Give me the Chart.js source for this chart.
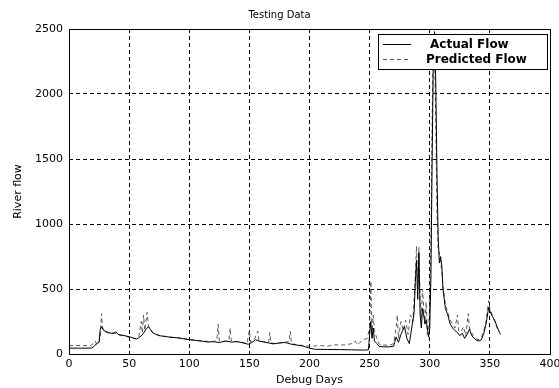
<!DOCTYPE html>
<html>
<head>
<meta charset="utf-8">
<script src="https://cdn.jsdelivr.net/npm/chart.js@4/dist/chart.umd.min.js"></script>
<style>
  body { margin: 0; background: #fff; }
</style>
</head>
<body>
<canvas id="flowChart" width="559" height="388"></canvas>
<script>
// values (day, river flow)
let actualDays = [0, 5, 10, 15, 19, 21, 23, 25, 26, 27, 29, 31, 33, 35, 37, 39, 41, 44, 47, 50, 53, 56, 58, 60, 62, 64, 66, 68, 70, 73, 76, 80, 85, 90, 95, 100, 105, 110, 115, 120, 125, 130, 135, 140, 145, 149, 152, 155, 158, 162, 166, 170, 175, 180, 185, 190, 195, 200, 205, 215, 225, 235, 245, 249, 250, 251, 252, 253, 254, 256, 258, 262, 266, 270, 272, 274, 276, 279, 281, 283, 285, 287, 288, 289, 290, 291, 292, 293, 294, 295, 296, 297, 299, 300, 301, 302, 303, 304, 305, 306, 307, 308, 309, 310, 311, 313, 315, 317, 319, 321, 323, 325, 327, 329, 331, 333, 335, 337, 339, 341, 343, 345, 347, 348, 349, 350, 352, 354, 356, 358, 359];
let actualFlow = [45, 45, 45, 45, 46, 60, 80, 90, 190, 210, 180, 172, 165, 160, 158, 170, 150, 145, 140, 133, 125, 115, 125, 140, 160, 190, 210, 185, 160, 150, 140, 135, 128, 125, 118, 110, 105, 100, 92, 95, 88, 100, 92, 95, 85, 75, 88, 110, 100, 92, 85, 78, 85, 88, 75, 68, 60, 45, 36, 35, 34, 32, 30, 32, 150, 250, 120, 200, 100, 80, 58, 55, 55, 60, 130, 90, 150, 210, 120, 80, 200, 320, 550, 720, 420, 780, 300, 200, 350, 300, 230, 260, 130, 200, 600, 1500, 2300, 2480, 2100, 1400, 900, 700, 750, 680, 500, 350, 300, 230, 200, 180, 165, 140, 160, 120, 150, 190, 140, 120, 105, 100, 110, 160, 240, 300, 360, 330, 290, 260, 210, 165, 150];

let predictedDays = [0, 10, 18, 20, 22, 23, 25, 26, 27, 28, 30, 33, 37, 40, 45, 50, 55, 58, 60, 61, 62, 63, 65, 66, 68, 71, 75, 80, 90, 100, 110, 120, 123, 124, 125, 130, 133, 134, 135, 140, 145, 148, 150, 151, 154, 157, 158, 162, 166, 167, 168, 172, 178, 183, 184, 185, 190, 195, 200, 205, 210, 215, 220, 230, 235, 238, 240, 242, 245, 248, 250, 251, 252, 253, 254, 256, 258, 262, 266, 270, 272, 273, 274, 276, 278, 280, 282, 284, 286, 288, 289, 290, 291, 292, 293, 294, 295, 296, 297, 298, 299, 300, 301, 302, 303, 304, 305, 306, 307, 308, 309, 310, 311, 313, 315, 317, 319, 321, 323, 324, 326, 328, 330, 332, 333, 335, 337, 339, 341, 343, 345, 347, 348, 349, 350, 352, 354, 356, 358];
let predictedFlow = [65, 65, 65, 80, 100, 70, 95, 130, 310, 200, 170, 160, 165, 150, 140, 130, 118, 130, 250, 160, 300, 180, 320, 220, 180, 155, 140, 135, 125, 112, 100, 95, 110, 230, 100, 95, 110, 200, 100, 95, 88, 80, 180, 90, 110, 175, 100, 95, 90, 165, 85, 80, 90, 95, 175, 80, 70, 65, 60, 62, 65, 60, 70, 70, 80, 100, 70, 90, 110, 120, 200, 560, 150, 300, 180, 120, 75, 70, 65, 80, 200, 300, 120, 250, 180, 260, 150, 300, 250, 600, 830, 500, 820, 400, 280, 500, 350, 250, 400, 150, 180, 400, 900, 1800, 2400, 2300, 1800, 1100, 800, 780, 700, 650, 520, 380, 320, 260, 230, 200, 300, 180, 170, 210, 140, 310, 200, 160, 130, 115, 110, 130, 180, 260, 350, 410, 350, 300, 250, 200, 170];

let xTicks = [0, 50, 100, 150, 200, 250, 300, 350, 400];
let yTicks = [0, 500, 1000, 1500, 2000, 2500];

function toPoints(days, vals) {
    return days.map(function(d, i) { return { x: d, y: vals[i] }; });
}

const font = "'DejaVu Sans', sans-serif";

// frame round the plot plus the boxed legend in the top right corner
const matlabBits = {
    id: 'matlabBits',
    afterDraw: function(chart) {
        const ctx = chart.ctx;
        const a = chart.chartArea;
        ctx.save();
        ctx.strokeStyle = '#000';
        ctx.lineWidth = 1;
        ctx.setLineDash([]);
        ctx.strokeRect(Math.round(a.left) + 0.5, Math.round(a.top) + 0.5,
            Math.round(a.right - a.left), Math.round(a.bottom - a.top));

        // legend
        const lx = 378, ly = 34, lw = 169, lh = 35;
        ctx.fillStyle = '#fff';
        ctx.fillRect(lx, ly, lw, lh);
        ctx.strokeRect(lx + 0.5, ly + 0.5, lw, lh);
        const rows = [44.5, 59.5];
        const textX = [430, 426];
        chart.data.datasets.forEach(function(ds, i) {
            ctx.strokeStyle = ds.borderColor;
            ctx.setLineDash(ds.borderDash || []);
            ctx.beginPath();
            ctx.moveTo(383, rows[i]);
            ctx.lineTo(411, rows[i]);
            ctx.stroke();
            ctx.setLineDash([]);
            ctx.fillStyle = '#000';
            ctx.font = "bold 12px " + font;
            ctx.textBaseline = 'middle';
            ctx.textAlign = 'left';
            ctx.fillText(ds.label, textX[i], rows[i]);
        });
        ctx.restore();
    }
};

var ctx = document.getElementById('flowChart');
var flowChart = new Chart(ctx, {
    type: 'scatter',
    data: {
        datasets: [{
            label: 'Actual Flow',
            data: toPoints(actualDays, actualFlow),
            showLine: true,
            borderColor: '#000',
            borderWidth: 1,
            pointRadius: 0,
            tension: 0
        }, {
            label: 'Predicted Flow',
            data: toPoints(predictedDays, predictedFlow),
            showLine: true,
            borderColor: '#5a5a5a',
            borderDash: [4, 3],
            borderWidth: 1,
            pointRadius: 0,
            tension: 0
        }]
    },
    options: {
        responsive: false,
        animation: false,
        devicePixelRatio: 1,
        plugins: {
            legend: { display: false },
            tooltip: { enabled: false },
            title: {
                display: true,
                text: 'Testing Data',
                color: '#000',
                font: { family: font, size: 10, weight: 'normal' },
                padding: { top: 9, bottom: 8 }
            }
        },
        scales: {
            x: {
                type: 'linear',
                min: 0,
                max: 400,
                afterFit: function(s) {
                    s.height = 34;
                    s.paddingLeft = 0;
                    s.paddingRight = 9;
                },
                afterBuildTicks: function(s) { s.ticks = xTicks.map(function(v) { return { value: v }; }); },
                ticks: { color: '#000', padding: 4, maxRotation: 0, font: { family: font, size: 11 },
                    callback: function(v) { return String(v); } },
                grid: { color: '#000', lineWidth: 1, drawTicks: false },
                border: { display: false, dash: [4, 3] },
                title: { display: true, text: 'Debug Days', color: '#000', font: { family: font, size: 11 }, padding: { top: 0, bottom: 1 } }
            },
            y: {
                min: 0,
                max: 2500,
                afterFit: function(s) { s.width = 69; },
                afterBuildTicks: function(s) { s.ticks = yTicks.map(function(v) { return { value: v }; }); },
                ticks: { color: '#000', padding: 6, font: { family: font, size: 11 },
                    callback: function(v) { return String(v); } },
                grid: { color: '#000', lineWidth: 1, drawTicks: false },
                border: { display: false, dash: [4, 3] },
                title: { display: true, text: 'River flow', color: '#000', font: { family: font, size: 11 }, padding: { top: 12, bottom: 0 } }
            }
        }
    },
    plugins: [matlabBits]
});
</script>
</body>
</html>
